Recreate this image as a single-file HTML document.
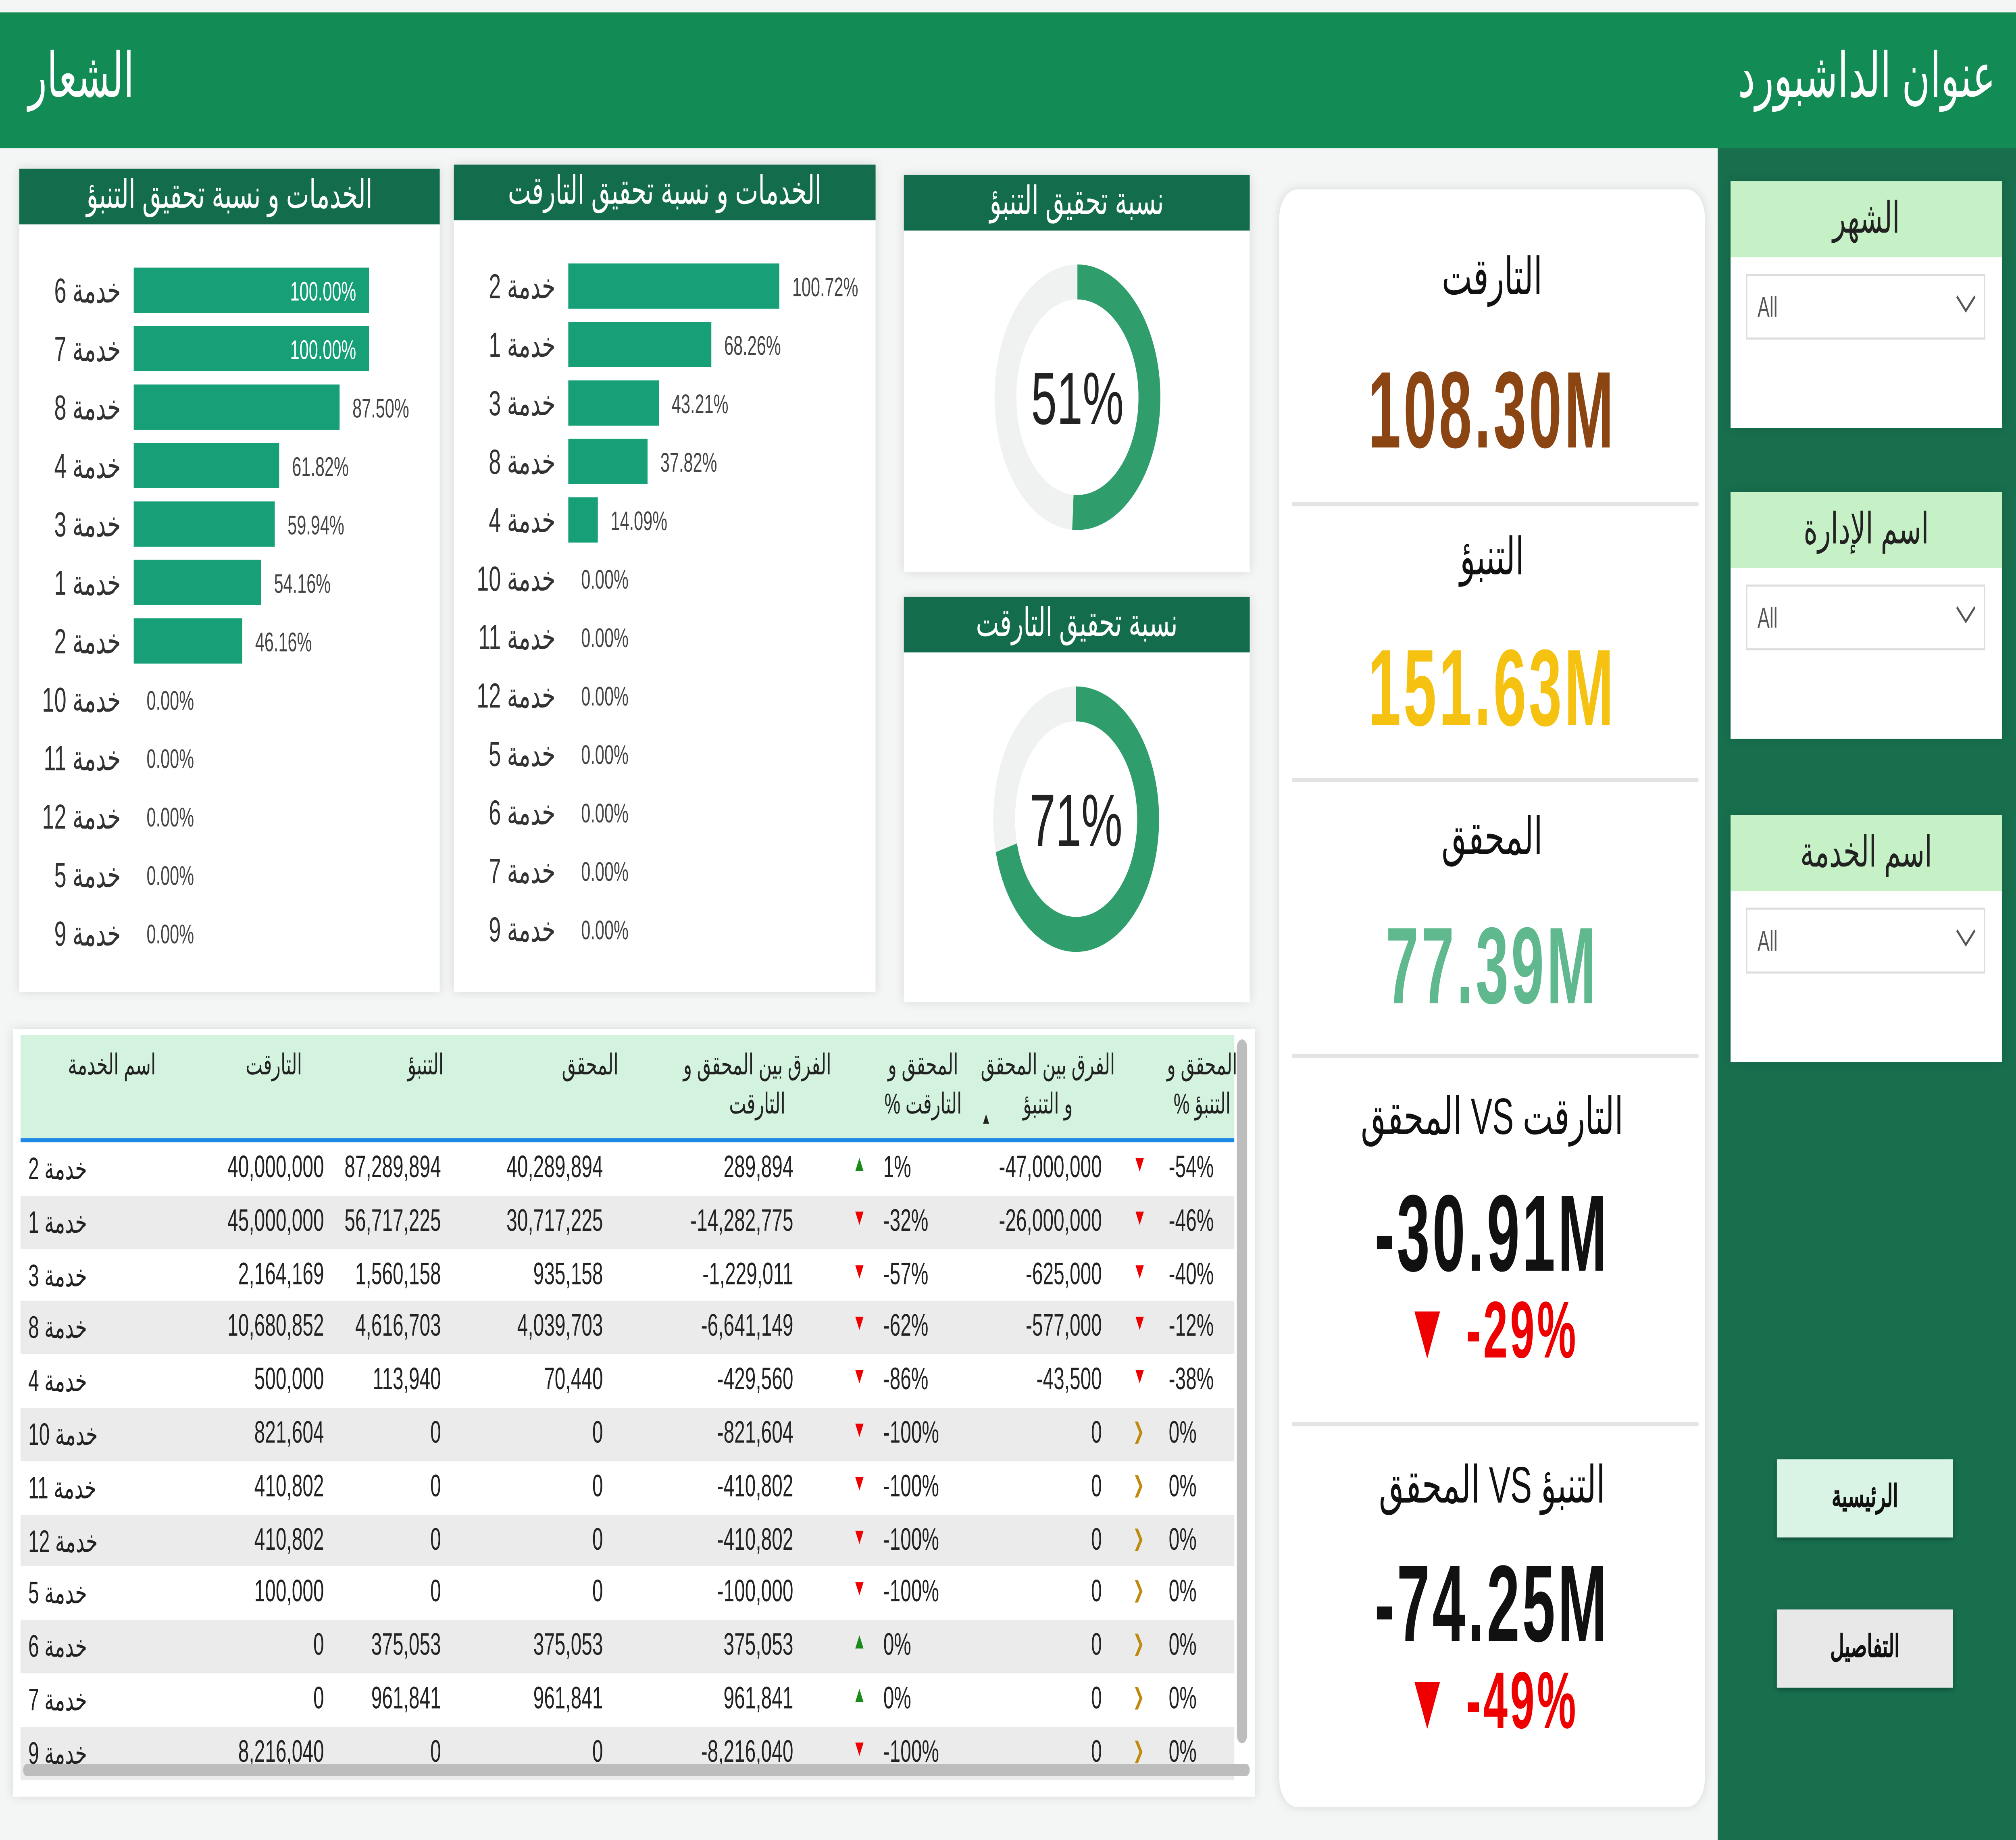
<!DOCTYPE html>
<html><head><meta charset="utf-8">
<style>
*{margin:0;padding:0;box-sizing:border-box}
html,body{width:100vw;height:100vh;overflow:hidden;background:#fff}
#root{position:absolute;left:0;top:0;width:1568px;height:894px;transform-origin:0 0;background:#f3f6f4;font-family:"Liberation Sans","Noto Sans CJK SC",sans-serif;overflow:hidden}
.abs{position:absolute}
.hdr{background:#136c4c;color:#fff;text-align:center;font-size:19px;line-height:27px}
.panel{background:#fff;box-shadow:0 0 6px rgba(0,0,0,.12)}
.sl-h{background:#c6f0c6;color:#222;text-align:center;font-size:21px;line-height:37px}
.dd{border:1px solid #ddd;background:#fff;font-size:14px;color:#555;padding-left:8px;line-height:30px}
.dd svg{position:absolute;right:6px;top:9px}
.kl{position:absolute;left:0;width:331px;text-align:center;font-size:25px;color:#111}
.kv{position:absolute;left:0;width:331px;text-align:center;font-size:46px;font-weight:bold;letter-spacing:2px;transform:scaleY(1.15)}
.div{position:absolute;left:10px;width:316px;height:2px;background:#e3e3e3}
.btn{position:absolute;text-align:center;font-size:15px;font-weight:bold;line-height:37px;color:#111;box-shadow:0 1px 3px rgba(0,0,0,.3)}
.cell{position:absolute;font-size:15px;color:#222;white-space:nowrap}
</style></head><body>
<div id="root">
<div class="abs" style="left:0;top:6px;width:1568px;height:66px;background:#128c54">
 <div class="abs" style="left:22px;top:14px;font-size:30px;color:#fff">الشعار</div>
 <div class="abs" style="right:16px;top:14px;font-size:30px;color:#fff">عنوان الداشبورد</div>
</div>
<div class="abs" style="left:1336px;top:72px;width:232px;height:822px;background:#176f4e"></div>

<div class="abs panel" style="left:1346px;top:88px;width:211px;height:120px">
 <div class="sl-h">الشهر</div>
 <div class="abs dd" style="left:12px;top:45px;width:186px;height:32px">All<svg width="16" height="10"><path d="M1 1 L8 8 L15 1" fill="none" stroke="#555" stroke-width="1.3"/></svg></div></div>
<div class="abs panel" style="left:1346px;top:239px;width:211px;height:120px">
 <div class="sl-h">اسم الإدارة</div>
 <div class="abs dd" style="left:12px;top:45px;width:186px;height:32px">All<svg width="16" height="10"><path d="M1 1 L8 8 L15 1" fill="none" stroke="#555" stroke-width="1.3"/></svg></div></div>
<div class="abs panel" style="left:1346px;top:396px;width:211px;height:120px">
 <div class="sl-h">اسم الخدمة</div>
 <div class="abs dd" style="left:12px;top:45px;width:186px;height:32px">All<svg width="16" height="10"><path d="M1 1 L8 8 L15 1" fill="none" stroke="#555" stroke-width="1.3"/></svg></div></div>
<div class="btn" style="left:1382px;top:709px;width:137px;height:38px;background:#d9f3e4">الرئيسية</div>
<div class="btn" style="left:1382px;top:782px;width:137px;height:38px;background:#e8e8e8">التفاصيل</div>

<div class="abs panel" style="left:995px;top:92px;width:331px;height:786px;border-radius:14px">
 <div class="kl" style="top:28px">التارقت</div>
 <div class="kv" style="top:80px;color:#8b4513">108.30M</div>
 <div class="div" style="top:152px"></div>
 <div class="kl" style="top:164px">التنبؤ</div>
 <div class="kv" style="top:215px;color:#f5c211">151.63M</div>
 <div class="div" style="top:286px"></div>
 <div class="kl" style="top:300px">المحقق</div>
 <div class="kv" style="top:350px;color:#5fb88e">77.39M</div>
 <div class="div" style="top:420px"></div>
 <div class="kl" style="top:436px">المحقق VS التارقت</div>
 <div class="kv" style="top:480px;color:#111">-30.91M</div>
 <div class="kv" style="top:536px;color:#e00;font-size:34px">▼ -29%</div>
 <div class="div" style="top:599px"></div>
 <div class="kl" style="top:615px">المحقق VS التنبؤ</div>
 <div class="kv" style="top:660px;color:#111">-74.25M</div>
 <div class="kv" style="top:716px;color:#e00;font-size:34px">▼ -49%</div>
</div>

<div class="abs panel" style="left:15px;top:82px;width:327px;height:400px">
 <div class="hdr">الخدمات و نسبة تحقيق التنبؤ</div>
 <svg id="bc1" class="abs" style="left:0;top:0" width="327" height="400"></svg></div>
<div class="abs panel" style="left:353px;top:80px;width:328px;height:402px">
 <div class="hdr">الخدمات و نسبة تحقيق التارقت</div>
 <svg id="bc2" class="abs" style="left:0;top:0" width="328" height="402"></svg></div>

<div class="abs panel" style="left:703px;top:85px;width:269px;height:193px">
 <div class="hdr">نسبة تحقيق التنبؤ</div>
 <svg id="d1" class="abs" style="left:0;top:0" width="269" height="193"></svg></div>
<div class="abs panel" style="left:703px;top:290px;width:269px;height:197px">
 <div class="hdr">نسبة تحقيق التارقت</div>
 <svg id="d2" class="abs" style="left:0;top:0" width="269" height="197"></svg></div>

<div class="abs panel" style="left:10px;top:500px;width:966px;height:373px;overflow:hidden">
 <div class="abs" style="left:6px;top:3px;width:944px;height:50px;background:#d3f3df"></div>
 <div class="abs" style="left:6px;top:53px;width:944px;height:2px;background:#1e88e5"></div>
 <div id="tb" class="abs" style="left:0;top:0;width:966px;height:373px"></div>
 <div class="abs" style="left:952px;top:5px;width:8px;height:342px;background:#bdbdbd;border-radius:4px"></div>
 <div class="abs" style="left:8px;top:357px;width:954px;height:6px;background:#bdbdbd;border-radius:3px"></div>
</div>
</div>
<script>
const fcNames=["خدمة 6","خدمة 7","خدمة 8","خدمة 4","خدمة 3","خدمة 1","خدمة 2","خدمة 10","خدمة 11","خدمة 12","خدمة 5","خدمة 9"];
const fcValues=[100,100,87.5,61.82,59.94,54.16,46.16,0,0,0,0,0];
const tgNames=["خدمة 2","خدمة 1","خدمة 3","خدمة 8","خدمة 4","خدمة 10","خدمة 11","خدمة 12","خدمة 5","خدمة 6","خدمة 7","خدمة 9"];
const tgValues=[100.72,68.26,43.21,37.82,14.09,0,0,0,0,0,0,0];
const donutValues=[51,71];
const tblNames=["خدمة 2","خدمة 1","خدمة 3","خدمة 8","خدمة 4","خدمة 10","خدمة 11","خدمة 12","خدمة 5","خدمة 6","خدمة 7","خدمة 9"];
const tblTarget=[40000000,45000000,2164169,10680852,500000,821604,410802,410802,100000,0,0,8216040];
const tblForecast=[87289894,56717225,1560158,4616703,113940,0,0,0,0,375053,961841,0];
const tblActual=[40289894,30717225,935158,4039703,70440,0,0,0,0,375053,961841,0];
const tblDiffT=[289894,-14282775,-1229011,-6641149,-429560,-821604,-410802,-410802,-100000,375053,961841,-8216040];
const tblPctT=[1,-32,-57,-62,-86,-100,-100,-100,-100,0,0,-100];
const tblDiffF=[-47000000,-26000000,-625000,-577000,-43500,0,0,0,0,0,0,0];
const tblPctF=[-54,-46,-40,-12,-38,0,0,0,0,0,0,0];
function fit(){
 const r=document.getElementById('root');
 const w=document.documentElement.clientWidth||window.innerWidth, h=document.documentElement.clientHeight||window.innerHeight;
 r.style.transform='scale('+(w/1568)+','+(h/894)+')';
}
fit();window.addEventListener('resize',fit);
const NS="http://www.w3.org/2000/svg";
function mk(svg,tag,a){const e=document.createElementNS(NS,tag);for(const k in a)e.setAttribute(k,a[k]);svg.appendChild(e);return e;}
function bars(id,names,vals,x0,pxPer100,y0){
 const svg=document.getElementById(id);
 const y=i=>y0+i*28.4;
 names.forEach((n,i)=>{
  const t=mk(svg,'text',{x:x0-10,y:y(i)+6,'text-anchor':'start','font-size':17,fill:'#333','font-family':'Liberation Sans, Noto Sans CJK SC, sans-serif',direction:'rtl','unicode-bidi':'embed'});
  t.textContent=n;
  
  
  const w=vals[i]/100*pxPer100;
  const r=mk(svg,'rect',{x:x0,y:y(i)-11,width:w,height:22,fill:'#17a078'});
  
  
  const lbl=vals[i].toFixed(2)+'%';
  const inside=w>170;
  const l=mk(svg,'text',{x:inside?x0+w-10:x0+w+10,y:y(i)+5,'text-anchor':inside?'end':'start','font-size':13,fill:inside?'#fff':'#444','font-family':'Liberation Sans, sans-serif'});
  l.textContent=lbl;
  
  
 });
}
bars('bc1',fcNames,fcValues,89,183,59);
bars('bc2',tgNames,tgValues,89,163,59);
function donut(id,v,cx,cy){
 const svg=document.getElementById(id);
 const r=56,sw=17;
 mk(svg,'circle',{cx,cy,r,fill:'none',stroke:'#f0f2f1','stroke-width':sw});
 const C=2*Math.PI*r;
 const a=mk(svg,'circle',{cx,cy,r,fill:'none',stroke:'#2f9e6c','stroke-width':sw,'stroke-dasharray':(C*v/100)+' '+C,transform:`rotate(-90 ${cx} ${cy})`});
 
 
 const t=mk(svg,'text',{x:cx,y:cy+13,'text-anchor':'middle','font-size':36,fill:'#222','font-family':'Liberation Sans, sans-serif'});
 t.textContent=v+'%';
 
 
}
donut('d1',donutValues[0],135,108);
donut('d2',donutValues[1],134,108);
const tb=document.getElementById('tb');
function cell(txt,style,name){const d=document.createElement('div');d.className='cell';d.style.cssText=style;d.textContent=txt;
 
 
 tb.appendChild(d);return d;}
const heads=[["اسم الخدمة",77],["التارقت",203],["التنبؤ",321],["المحقق",449],["الفرق بين المحقق و<br>التارقت",579],["المحقق و<br>% التارقت",708],["الفرق بين المحقق<br>و التنبؤ",805],["المحقق و<br>% التنبؤ",925]];
heads.forEach(h=>{const d=cell('', `left:${h[1]-80}px;width:160px;top:8px;text-align:center;font-size:14px;line-height:19px`,'column-header');d.innerHTML=h[0];});
cell('▲',`left:753px;top:39px;font-size:8px`,'sort-indicator');
const fmt=v=>v.toLocaleString('en-US');
tblNames.forEach((n,i)=>{
 const top=55+i*25.8;
 const row=document.createElement('div');row.className='abs';row.style.cssText=`left:6px;top:${top}px;width:944px;height:25.8px;background:${i%2?'#ebebeb':'#fff'}`;
 
 
 tb.appendChild(row);
 const ty=top+4;
 cell(n,`left:12px;top:${ty}px;direction:rtl`,'service-name');
 cell(fmt(tblTarget[i]),`right:${966-242}px;top:${ty}px`,'target-cell');
 cell(fmt(tblForecast[i]),`right:${966-333}px;top:${ty}px`,'forecast-cell');
 cell(fmt(tblActual[i]),`right:${966-459}px;top:${ty}px`,'actual-cell');
 cell(fmt(tblDiffT[i]),`right:${966-607}px;top:${ty}px`,'diff-target-cell');
 const up1=tblPctT[i]>=0;
 cell(up1?'▲':'▼',`left:653px;top:${ty+1}px;font-size:11px;color:${up1?'#1a8a1a':'#e00'}`,'target-arrow');
 cell(tblPctT[i]+'%',`left:677px;top:${ty}px`,'target-pct-cell');
 cell(fmt(tblDiffF[i]),`right:${966-847}px;top:${ty}px`,'diff-forecast-cell');
 const p=tblPctF[i];
 cell(p<0?'▼':'❯',`left:871px;top:${ty+1}px;font-size:11px;color:${p<0?'#e00':'#c08a10'}`,'forecast-arrow');
 cell(p+'%',`left:899px;top:${ty}px`,'forecast-pct-cell');
});
</script>
</body></html>
